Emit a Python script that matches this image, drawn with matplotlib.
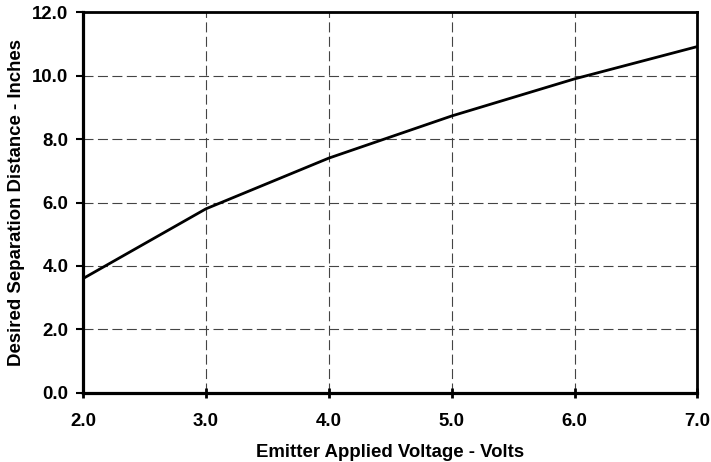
import matplotlib
matplotlib.use("Agg")
from matplotlib import pyplot as plt

# values
voltage = [2.0, 3.0, 4.0, 5.0, 6.0, 7.0]
distance = [3.6, 5.8, 7.4, 8.73, 9.9, 10.92]
x_ticks = [2.0, 3.0, 4.0, 5.0, 6.0, 7.0]
y_ticks = [0.0, 2.0, 4.0, 6.0, 8.0, 10.0, 12.0]

plt.rcParams['font.family'] = ['Liberation Sans', 'DejaVu Sans']
FS = 13.4

fig = plt.figure(figsize=(7.11, 4.62), dpi=100)
ax = fig.add_axes([83 / 711, 1 - 392.7 / 462, (697.5 - 83) / 711, (392.7 - 12.3) / 462])

ax.plot(voltage, distance, color='black', linewidth=2)

ax.set_xlim(2, 7)
ax.set_ylim(0, 12)
ax.set_xticks(x_ticks)
ax.set_yticks(y_ticks)
ax.set_xticklabels([f"{v:.1f}" for v in x_ticks], fontsize=FS, fontweight='bold')
ax.set_yticklabels([f"{v:.1f}" for v in y_ticks], fontsize=FS, fontweight='bold')

ax.grid(True, color='#444444', linestyle=(0, (9, 4)), linewidth=0.8)
ax.tick_params(axis='x', direction='inout', length=7.5, width=2, pad=11)
ax.tick_params(axis='y', direction='out', length=5, width=1.5, pad=5.5)

ax.spines['left'].set_linewidth(2.3)
ax.spines['bottom'].set_linewidth(2.3)
ax.spines['top'].set_linewidth(2)
ax.spines['right'].set_linewidth(2)

ax.set_xlabel('Emitter Applied Voltage - Volts', fontsize=FS, fontweight='bold', labelpad=10)
ax.set_ylabel('Desired Separation Distance - Inches', fontsize=FS, fontweight='bold', labelpad=5)

fig.savefig('out.png', dpi=100)
